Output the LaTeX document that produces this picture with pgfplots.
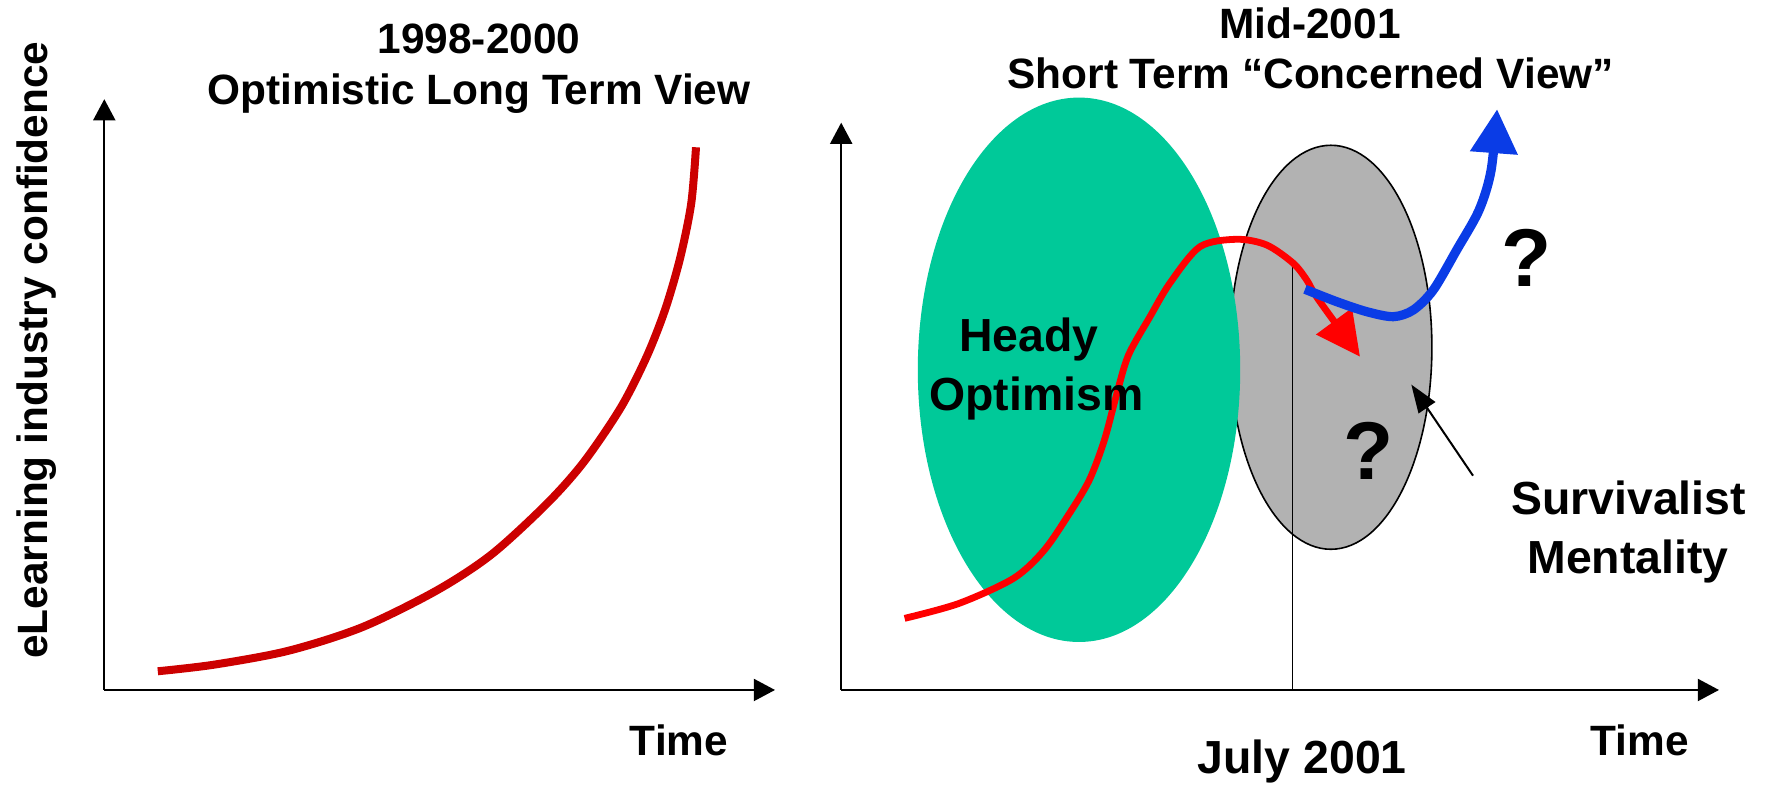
\documentclass[border=0pt]{standalone}
\usepackage{fontspec}
\setmainfont{Liberation Sans}
\usepackage{pgfplots}
\pgfplotsset{compat=1.18}
\usetikzlibrary{arrows.meta}
\definecolor{heady}{RGB}{0,201,153}
\definecolor{surv}{RGB}{178,178,178}
\definecolor{darkred}{RGB}{204,0,0}
\definecolor{brightred}{RGB}{255,0,0}
\definecolor{blueline}{RGB}{10,60,230}
\pgfplotsset{
  panel/.style={
    scale only axis, clip=false, axis lines=left,
    xtick=\empty, ytick=\empty,
    axis line style={line width=0.55pt, black},
    x axis line style={-{Triangle[length=5.3pt,width=5.5pt]}},
    y axis line style={-{Triangle[length=5.3pt,width=5.5pt]}},
    anchor=south west,
  },
}
\tikzset{
  ttl/.style={font=\fontsize{10.6}{12}\selectfont\bfseries, anchor=base, inner sep=0pt},
  ann/.style={font=\fontsize{11.6}{13}\selectfont\bfseries, anchor=base, inner sep=0pt},
  qm/.style={font=\fontsize{20.5}{24}\selectfont\bfseries, anchor=base, inner sep=0pt},
}
\begin{document}
\begin{tikzpicture}
\useasboundingbox (0,0) rectangle (442pt,196.75pt);
% ---------- left panel ----------
\begin{axis}[panel, xmin=104.3, xmax=775, ymin=97, ymax=687.8,
  width=167.675pt, height=147.7pt, at={(26.075pt,24.25pt)}]
\addplot[darkred, line width=2pt, smooth] coordinates {
 (157.8,115.7) (214,122.3) (288,136.1) (362,159.7) (436,196.1)
 (491.5,232.5) (547,283.4) (584,325.2) (621,379.7) (646.8,430.6)
 (665.3,477.9) (680.1,528.8) (691.2,583.4) (696,639.7)};
\node[ttl] at (axis cs:479,733) {1998-2000};
\node[ttl] at (axis cs:479,682) {Optimistic Long Term View};
\node[ttl] at (axis cs:679,31.5) {Time};
\node[ttl, rotate=90] at (axis cs:47.5,436.8) {eLearning industry confidence};
\end{axis}
% ---------- right panel ----------
\begin{axis}[panel, xmin=841.2, xmax=1719, ymin=97, ymax=664.3,
  width=219.45pt, height=141.825pt, at={(210.3pt,24.25pt)}]
\filldraw[fill=surv, draw=black, line width=0.4pt] (axis cs:1330.9,439.7) ellipse [x radius=101, y radius=202];
\fill[heady] (axis cs:1079,417.2) ellipse [x radius=161.2, y radius=272.2];
\addplot[black, line width=0.35pt] coordinates {(1292.5,522.5) (1292.5,97)};
\addplot[brightred, line width=1.7pt, smooth, -{Triangle[length=11pt,width=10.75pt]}] coordinates {
 (904.6,168.6) (959.1,183.6) (1013.5,208.6) (1043.7,236.2) (1067.9,271.2)
 (1089.0,306.3) (1104.2,346.3) (1116.3,391.4) (1128.3,431.5) (1150,470.3)
 (1170,504) (1200,540.3) (1236.7,547.7) (1266.7,542) (1293.3,523.7)
 (1306.7,507) (1318,488) (1360,430.3)};
\addplot[blueline, line width=2.3pt, smooth, -{Triangle[length=11pt,width=11.4pt]}] coordinates {
 (1305,497.7) (1336.7,485.3) (1366.7,475.3) (1393.3,470.3) (1413.3,477)
 (1433.3,497) (1456.7,537) (1479,576.7) (1491.1,616.7) (1497.1,677.8)};
\addplot[black, line width=0.5pt, -{Triangle[length=7pt,width=5pt]}] coordinates {(1473,311.3) (1411.3,402.4)};
\node[ttl] at (axis cs:1310,748) {Mid-2001};
\node[ttl] at (axis cs:1310.6,698) {Short Term “Concerned View”};
\node[ann] at (axis cs:1029,435) {Heady};
\node[ann] at (axis cs:1036.5,376.4) {Optimism};
\node[qm] at (axis cs:1527,500.6) {?};
\node[qm] at (axis cs:1368.4,307.3) {?};
\node[ann] at (axis cs:1628.6,272.2) {Survivalist};
\node[ann] at (axis cs:1628,213.6) {Mentality};
\node[ann] at (axis cs:1302.2,13.3) {July 2001};
\node[ttl] at (axis cs:1639.9,31) {Time};
\end{axis}
\end{tikzpicture}
\end{document}
